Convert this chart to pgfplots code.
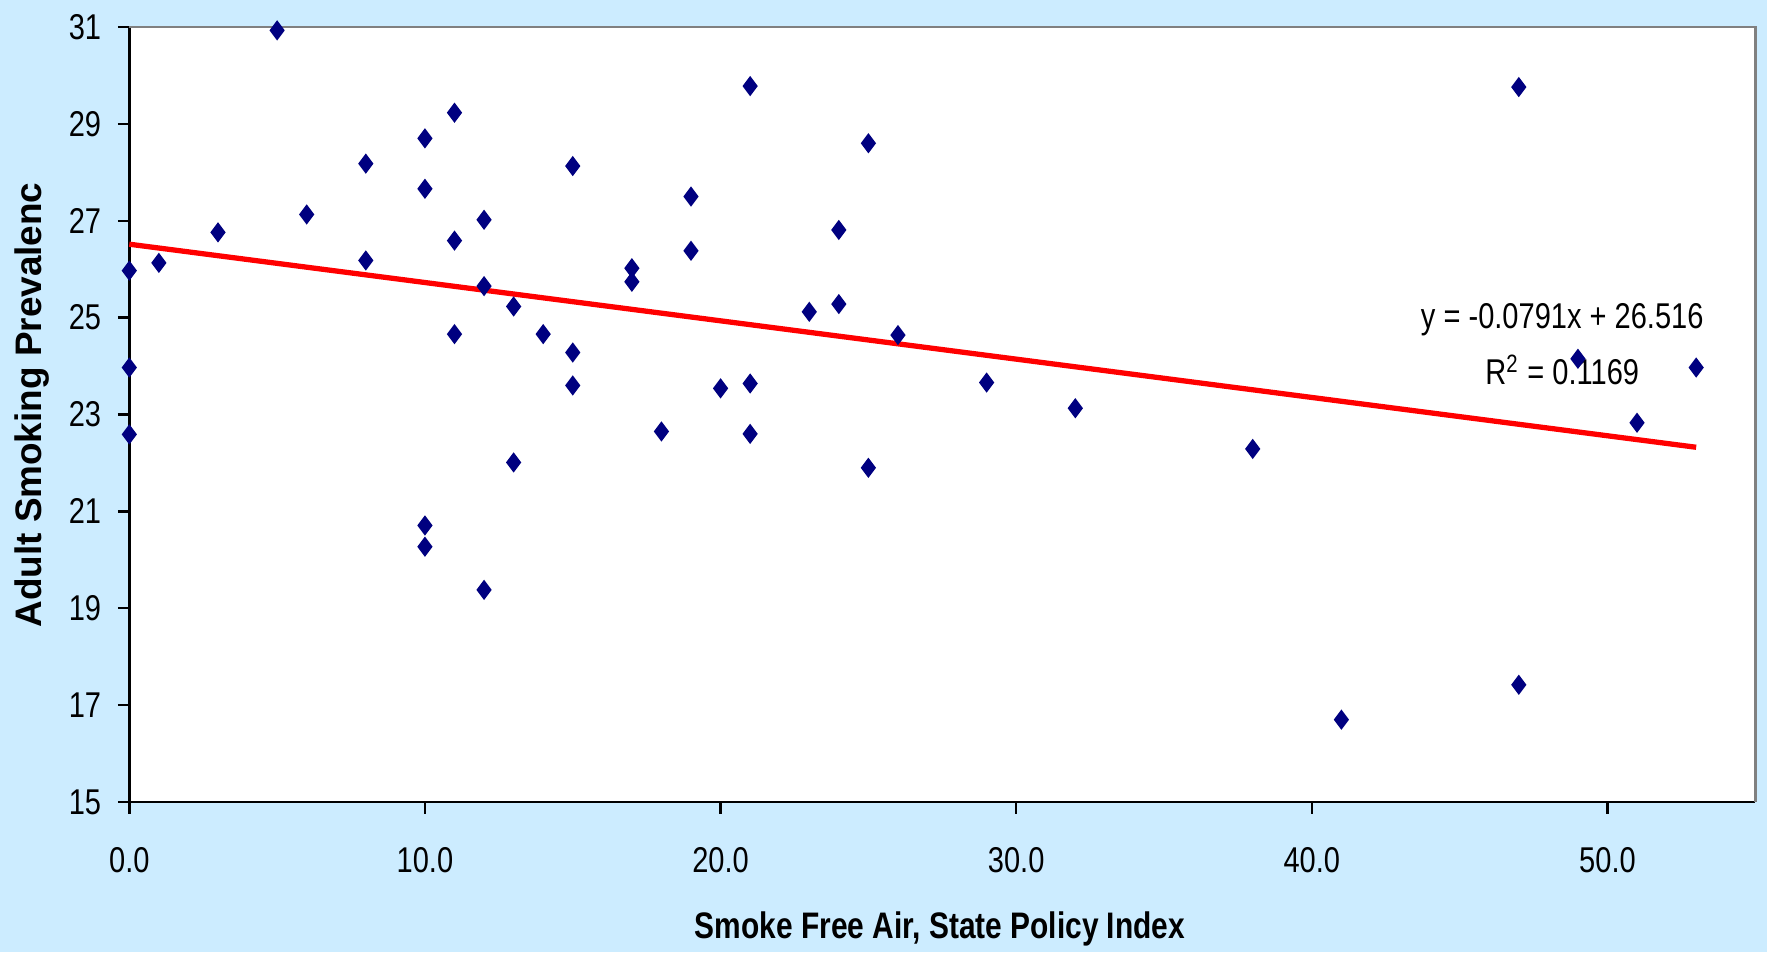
\documentclass[border=0pt]{standalone}
\usepackage{pgfplots}
\pgfplotsset{compat=1.18}
\usepackage{pgfplotstable}
\usepackage{fontspec}
\setmainfont{Liberation Sans}
\newfontfamily\narrow[FakeStretch=0.81]{Liberation Sans}
\definecolor{bg}{HTML}{CCECFF}
\definecolor{navy}{HTML}{000080}
\pgfplotstableread{
x y
0 25.97
0 23.97
0 22.59
1 26.13
3 26.76
5 30.93
6 27.13
8 28.18
8 26.18
10 28.70
10 27.66
10 20.71
10 20.27
11 29.23
11 26.59
11 24.66
12 27.02
12 25.65
12 19.38
13 25.23
13 22.01
14 24.66
15 28.13
15 24.28
15 23.60
17 26.02
17 25.74
18 22.65
19 27.50
19 26.38
20 23.54
21 29.78
21 23.64
21 22.60
23 25.12
24 26.81
24 25.28
25 28.60
25 21.90
26 24.64
29 23.66
32 23.13
38 22.29
41 16.70
47 29.76
47 17.42
49 24.15
51 22.83
53 23.97
}\datatable
\begin{document}
\begin{tikzpicture}
\fill[bg] (0mm,0mm) rectangle (176.7mm,95.2mm);
\useasboundingbox (0mm,0mm) rectangle (176.7mm,95.2mm);
\begin{axis}[
  at={(12.93mm,15mm)}, anchor=south west,
  scale only axis, width=162.6mm, height=77.5mm,
  xmin=0, xmax=55, ymin=15, ymax=31,
  clip=false,
  axis background/.style={fill=white},
  axis x line*=bottom, axis y line*=left,
  axis line style={black, line width=0.7pt},
  xtick={0,10,20,30,40,50},
  xticklabels={0.0,10.0,20.0,30.0,40.0,50.0},
  ytick={15,17,19,21,23,25,27,29,31},
  minor tick num=0,
  tick align=outside,
  major tick length=1.15mm,
  tick style={black, line width=0.7pt},
  /pgf/number format/assume math mode=true,
  ticklabel style={font=\narrow\fontsize{10.2pt}{12pt}\selectfont, text=black},
  xticklabel style={anchor=base, inner sep=0pt, yshift=-5.9mm},
  yticklabel style={anchor=east, inner sep=0pt, xshift=-1.6mm},
]
\addplot[only marks, mark=diamond*, mark size=0.9mm, draw=navy, fill=navy, mark options={draw=navy, fill=navy}] table[x=x, y=y] {\datatable};
\addplot[red, line width=1.5pt, no marks] coordinates {(0,26.516) (53,22.3237)};
\draw[gray, line width=0.7pt] (rel axis cs:0,1) -- (rel axis cs:1,1) -- (rel axis cs:1,0);
\node[anchor=base, inner sep=0pt, font=\narrow\fontsize{10.2pt}{12pt}\selectfont] at (axis cs:48.47,24.77) {y = -0.0791x + 26.516};
\node[anchor=base, inner sep=0pt, font=\narrow\fontsize{10.2pt}{12pt}\selectfont] at (axis cs:48.47,23.61) {R\textsuperscript{2} = 0.1169};
\end{axis}
\node[rotate=90, anchor=base, inner sep=0pt, font=\bfseries\fontsize{10.5pt}{12pt}\selectfont] at (4.2mm,54.7mm) {Adult Smoking Prevalenc};
\node[anchor=base, inner sep=0pt, font=\narrow\bfseries\fontsize{10.5pt}{12pt}\selectfont] at (94.0mm,1.4mm) {Smoke Free Air, State Policy Index};
\end{tikzpicture}
\end{document}
